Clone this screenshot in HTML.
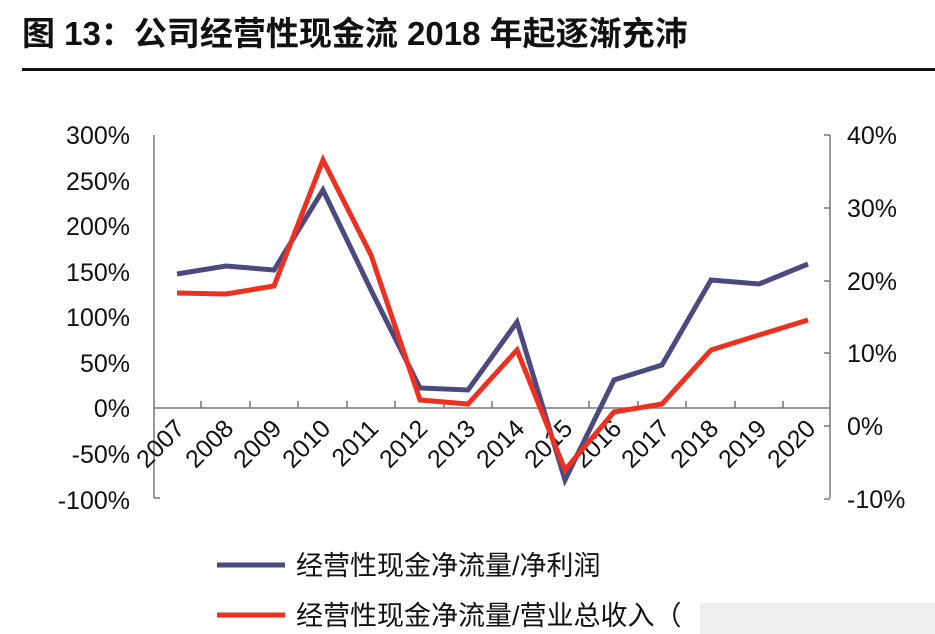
<!DOCTYPE html>
<html><head><meta charset="utf-8"><style>
body{margin:0;background:#fff;width:935px;height:634px;overflow:hidden;font-family:"Liberation Sans","Noto Sans CJK SC",sans-serif}
</style></head><body>
<svg width="935" height="634" xmlns="http://www.w3.org/2000/svg" style="position:absolute;left:0;top:0">
<text x="22" y="45" font-size="33" font-weight="bold" font-family="Liberation Sans, Noto Sans CJK SC, sans-serif" fill="#111">图 13：公司经营性现金流 2018 年起逐渐充沛</text>
<rect x="22" y="68" width="913" height="3" fill="#111"/>
<g font-size="25" fill="#111" text-anchor="end">
<text x="130" y="144">300%</text><text x="130" y="190">250%</text><text x="130" y="235">200%</text>
<text x="130" y="281">150%</text><text x="130" y="326">100%</text><text x="130" y="372">50%</text>
<text x="130" y="417">0%</text><text x="130" y="463">-50%</text><text x="130" y="509">-100%</text>
</g>
<g font-size="25" fill="#111" text-anchor="start">
<text x="847" y="144">40%</text><text x="847" y="217">30%</text><text x="847" y="290">20%</text>
<text x="847" y="362">10%</text><text x="847" y="435">0%</text><text x="847" y="508">-10%</text>
</g>
<g stroke="#777" stroke-width="1.5" fill="none">
<line x1="154" y1="135" x2="154" y2="498"/><line x1="154" y1="498" x2="160" y2="498"/>
<line x1="830" y1="135" x2="830" y2="498"/>
<line x1="154" y1="408" x2="830" y2="408"/>
<path d="M201 408v-7M250 408v-7M298 408v-7M347 408v-7M395 408v-7M444 408v-7M492 408v-7M541 408v-7M589 408v-7M638 408v-7M686 408v-7M735 408v-7M783 408v-7"/>
<path d="M830 135h-6M830 208h-6M830 281h-6M830 353h-6M830 426h-6M830 499h-6"/>
</g>
<g font-size="25" fill="#111" text-anchor="end">
<text transform="translate(186,430) rotate(-45)">2007</text>
<text transform="translate(235,430) rotate(-45)">2008</text>
<text transform="translate(283,430) rotate(-45)">2009</text>
<text transform="translate(332,430) rotate(-45)">2010</text>
<text transform="translate(380,430) rotate(-45)">2011</text>
<text transform="translate(429,430) rotate(-45)">2012</text>
<text transform="translate(477,430) rotate(-45)">2013</text>
<text transform="translate(526,430) rotate(-45)">2014</text>
<text transform="translate(574,430) rotate(-45)">2015</text>
<text transform="translate(623,430) rotate(-45)">2016</text>
<text transform="translate(671,430) rotate(-45)">2017</text>
<text transform="translate(720,430) rotate(-45)">2018</text>
<text transform="translate(768,430) rotate(-45)">2019</text>
<text transform="translate(817,430) rotate(-45)">2020</text>
</g>
<polyline fill="none" stroke="#4b4a80" stroke-width="5" points="177,274 226,266 274,270 323,190 371,290 420,388 468,390 517,322 565,480 614,380 662,365 711,280 759,284 808,264"/>
<polyline fill="none" stroke="#ee3020" stroke-width="5" points="177,293 226,294 274,286 323,160 371,255 420,400 468,404 517,350 565,470 614,412 662,404 711,350 759,335 808,320"/>
<line x1="217" y1="565" x2="285" y2="565" stroke="#4b4a80" stroke-width="5"/>
<text x="296" y="575" font-size="27" fill="#111">经营性现金净流量/净利润</text>
<line x1="217" y1="615" x2="285" y2="615" stroke="#ee3020" stroke-width="5"/>
<text x="296" y="625" font-size="27" fill="#111">经营性现金净流量/营业总收入（</text>
<rect x="700" y="603" width="235" height="31" fill="#e4e4e4" opacity="0.6"/>
</svg>
</body></html>
